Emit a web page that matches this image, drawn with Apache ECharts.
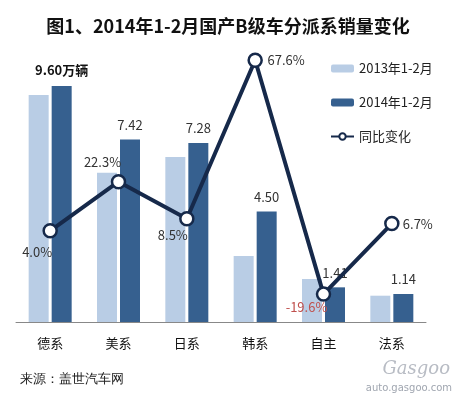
<!DOCTYPE html>
<html>
<head>
<meta charset="utf-8">
<script src="https://cdn.jsdelivr.net/npm/echarts@6/dist/echarts.min.js"></script>
<style>
html, body { margin: 0; padding: 0; background: #fff; }
#main { width: 456px; height: 396px; }
</style>
</head>
<body>
<div id="main"></div>
<script>
var categories = ['德系', '美系', '日系', '韩系', '自主', '法系'];
var sales2013 = [9.23, 6.07, 6.71, 2.68, 1.75, 1.07];
var sales2014 = [9.60, 7.42, 7.28, 4.50, 1.41, 1.14];
var yoy = [4.0, 22.3, 8.5, 67.6, -19.6, 6.7];
// label offsets for the yoy points, relative to the point centre
var yoyOffsets = [[-13, 21], [-16, -20], [-14, 16], [31, 0], [-17, 13], [26, 0]];

var font = '"Noto Sans CJK SC", "DejaVu Sans", sans-serif';

window.onload = function() {
    var ec = echarts.init(document.getElementById('main'));

    var barLabelData = sales2014.map(function(v, i) {
        var item = { value: v };
        if (i === 0) {
            item.label = {
                formatter: v.toFixed(2) + '万辆',
                fontWeight: 'bold',
                fontSize: 13,
                color: '#111',
                distance: 9
            };
        }
        return item;
    });

    var yoyData = yoy.map(function(v, i) {
        return {
            value: v,
            label: {
                offset: yoyOffsets[i],
                color: v < 0 ? '#c0504d' : '#333'
            }
        };
    });

    ec.setOption({
        animation: false,
        title: {
            text: '图1、2014年1-2月国产B级车分派系销量变化',
            left: 'center',
            top: 12,
            textStyle: {
                fontSize: 18,
                fontWeight: 'bold',
                color: '#111',
                fontFamily: font
            }
        },
        legend: {
            orient: 'vertical',
            left: 325,
            top: 57,
            itemWidth: 23,
            itemHeight: 8,
            itemGap: 21,
            textStyle: { fontSize: 13, color: '#222', fontFamily: font },
            data: ['2013年1-2月', '2014年1-2月', '同比变化']
        },
        grid: { left: 16, right: 30, top: 27, bottom: 74 },
        xAxis: {
            type: 'category',
            data: categories,
            axisLine: { lineStyle: { color: '#888' } },
            axisTick: { length: 5, lineStyle: { color: '#888' } },
            axisLabel: { color: '#111', fontSize: 13, margin: 15, fontFamily: font }
        },
        yAxis: [{
            type: 'value', min: 0, max: 12, show: false, splitLine: { show: false }
        }, {
            type: 'value', min: -30, max: 80, show: false, splitLine: { show: false }
        }],
        series: [{
            name: '2013年1-2月',
            type: 'bar',
            barWidth: 20,
            barGap: '15%',
            itemStyle: { color: '#b9cde5' },
            data: sales2013
        }, {
            name: '2014年1-2月',
            type: 'bar',
            barWidth: 20,
            itemStyle: { color: '#36608f' },
            label: {
                show: true,
                position: 'top',
                distance: 8,
                color: '#333',
                fontSize: 13,
                fontFamily: font,
                formatter: function(p) { return p.value.toFixed(2); }
            },
            data: barLabelData
        }, {
            name: '同比变化',
            type: 'line',
            yAxisIndex: 1,
            symbol: 'circle',
            symbolSize: 13,
            z: 5,
            lineStyle: { color: '#16294a', width: 4 },
            itemStyle: { color: '#fff', borderColor: '#16294a', borderWidth: 2.5 },
            label: {
                show: true,
                position: 'inside',
                fontSize: 13,
                fontFamily: font,
                formatter: function(p) { return p.value.toFixed(1) + '%'; }
            },
            data: yoyData
        }],
        graphic: [{
            type: 'text',
            left: 20,
            top: 373,
            style: { text: '来源：盖世汽车网', fontSize: 13, fill: '#222', font: '13px ' + font }
        }, {
            type: 'text',
            right: 6,
            top: 360,
            style: { text: 'Gasgoo', font: 'italic 18px "DejaVu Serif", serif', fill: '#b8bcc4' }
        }, {
            type: 'text',
            right: 4,
            top: 383,
            style: { text: 'auto.gasgoo.com', font: '10px "DejaVu Sans", sans-serif', fill: '#a0a6b0' }
        }]
    });
};
</script>
</body>
</html>
